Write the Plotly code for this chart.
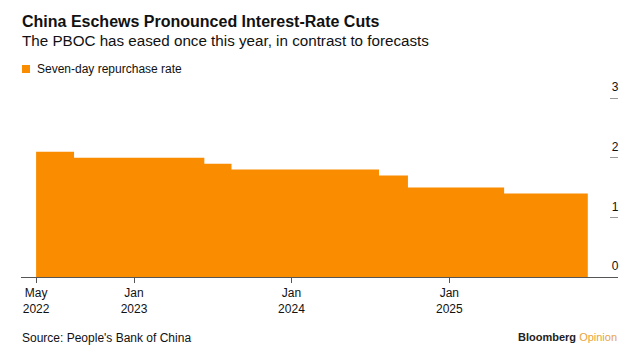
import plotly.graph_objects as go

# Data: seven-day reverse repo rate (step changes)
dates = ["2022-05-19", "2022-08-15", "2023-06-13", "2023-08-15",
         "2024-07-22", "2024-09-27", "2025-05-08", "2025-11-18"]
rates = [2.10, 2.00, 1.90, 1.80, 1.70, 1.50, 1.40, 1.40]

x_tickvals = ["2022-05-19", "2023-01-01", "2024-01-01", "2025-01-01"]
x_ticktext = ["May<br>2022", "Jan<br>2023", "Jan<br>2024", "Jan<br>2025"]
y_tickvals = [0, 1, 2, 3]
y_ticktext = ["0", "1", "2", "3"]

ORANGE = "#FA8C00"
FONT = "Liberation Sans, Arial, sans-serif"

W, H = 644, 356
PLOT_TOP, PLOT_BOTTOM = 78, 277
PLOT_LEFT, PLOT_RIGHT = 21, 618
Y_TOP = 3 + (98 - PLOT_TOP) / ((PLOT_BOTTOM - 98) / 3)


def py(ypx):
    return (PLOT_BOTTOM - ypx) / (PLOT_BOTTOM - PLOT_TOP)


def px(xpx):
    return (xpx - PLOT_LEFT) / (PLOT_RIGHT - PLOT_LEFT)


fig = go.Figure()
fig.add_trace(go.Scatter(
    x=dates, y=rates, mode="lines", line=dict(width=0, color=ORANGE, shape="hv"),
    fill="tozeroy", fillcolor=ORANGE, showlegend=False, hoverinfo="x+y",
))

fig.update_layout(
    width=W, height=H,
    margin=dict(l=PLOT_LEFT, r=W - PLOT_RIGHT, t=PLOT_TOP, b=H - PLOT_BOTTOM, pad=0),
    paper_bgcolor="white", plot_bgcolor="white",
    font=dict(family=FONT, color="#1a1a1a", size=12),
    xaxis=dict(
        type="date", range=["2022-04-14", "2026-01-27"],
        tickmode="array", tickvals=x_tickvals, ticktext=x_ticktext,
        ticks="outside", ticklen=5, tickcolor="#555", tickwidth=1,
        showline=True, linecolor="#555", linewidth=1,
        showgrid=False, zeroline=False, automargin=False,
        tickfont=dict(size=12, color="#111"),
        fixedrange=True,
    ),
    yaxis=dict(
        range=[0, Y_TOP], side="right",
        tickmode="array", tickvals=y_tickvals, ticktext=y_ticktext,
        ticks="inside", ticklen=8, tickcolor="#999", tickwidth=1,
        ticklabelposition="inside", ticklabelstandoff=-9, ticklabelshift=-11,
        showline=False, showgrid=False, zeroline=False, automargin=False,
        tickfont=dict(size=12, color="#111"),
        fixedrange=True,
    ),
    annotations=[
        dict(text="<b>China Eschews Pronounced Interest-Rate Cuts</b>",
             xref="paper", yref="paper", x=px(20), y=py(28), xanchor="left", yanchor="bottom",
             yshift=-4, showarrow=False, font=dict(size=16, color="#111")),
        dict(text="The PBOC has eased once this year, in contrast to forecasts",
             xref="paper", yref="paper", x=px(20), y=py(47), xanchor="left", yanchor="bottom",
             yshift=-4, showarrow=False, font=dict(size=15.2, color="#111")),
        dict(text="Seven-day repurchase rate",
             xref="paper", yref="paper", x=px(35), y=py(69), xanchor="left", yanchor="middle",
             showarrow=False, font=dict(size=12, color="#111")),
        dict(text="Source: People's Bank of China",
             xref="paper", yref="paper", x=px(20), y=py(338), xanchor="left", yanchor="middle",
             showarrow=False, font=dict(size=12, color="#111")),
        dict(text="<b>Bloomberg</b> <span style='color:#E8A33D'>Opinion</span>",
             xref="paper", yref="paper", x=px(619), y=py(337), xanchor="right", yanchor="middle",
             showarrow=False, font=dict(size=11, color="#222")),
    ],
    shapes=[
        dict(type="rect", xref="paper", yref="paper",
             x0=px(22), x1=px(30), y0=py(73), y1=py(65),
             fillcolor=ORANGE, line=dict(width=0)),
    ],
)

fig.write_html("out.html", config={"displayModeBar": False},
               post_script="document.body.style.margin='0';")
